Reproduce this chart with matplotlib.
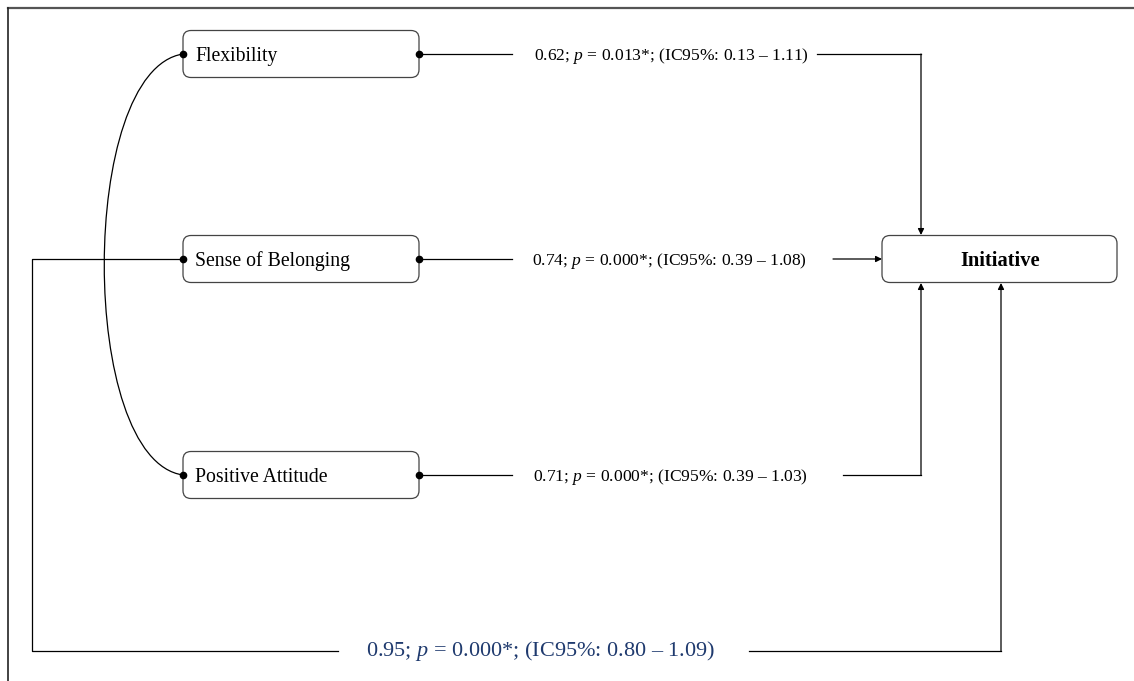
import matplotlib
matplotlib.use("Agg")
import matplotlib.pyplot as plt
from matplotlib.patches import FancyBboxPatch
from matplotlib.path import Path
from matplotlib.patches import PathPatch

plt.rcParams['font.family'] = ['Liberation Serif', 'DejaVu Serif']
plt.rcParams['mathtext.fontset'] = 'custom'
plt.rcParams['mathtext.rm'] = 'Liberation Serif'
plt.rcParams['mathtext.it'] = 'Liberation Serif:italic'

# path model values
predictors = ['Flexibility', 'Sense of Belonging', 'Positive Attitude']
outcome = 'Initiative'
coefs = [0.62, 0.74, 0.71]
p_values = ['0.013', '0.000', '0.000']
ci_low = [0.13, 0.39, 0.39]
ci_high = [1.11, 1.08, 1.03]
total_coef = 0.95
total_p = '0.000'
total_ci = (0.80, 1.09)


def label(c, p, lo, hi):
    return f"{c:.2f}; $p$ = {p}*; (IC95%: {lo:.2f} \u2013 {hi:.2f})"


fig = plt.figure(figsize=(11.34, 6.81), dpi=100)
ax = fig.add_axes([0, 0, 1, 1])
ax.set_xlim(0, 1134)
ax.set_ylim(681, 0)
ax.axis('off')

lw = 0.9
edge = '#444444'

# frame (top + left only)
ax.plot([8, 1134], [8, 8], color='#555555', lw=1.6)
ax.plot([8, 8], [8, 681], color='#222222', lw=1.2)

box_x0, box_x1 = 183, 419
box_h = 47
rows_y = [54, 259, 475]


def draw_box(x0, x1, yc, text, cx=None):
    b = FancyBboxPatch((x0, yc - box_h / 2), x1 - x0, box_h,
                       boxstyle="round,pad=0,rounding_size=8",
                       fc='white', ec=edge, lw=lw, zorder=3)
    ax.add_patch(b)
    if cx is None:
        ax.text(x0 + 12, yc + 2, text, ha='left', va='center', fontsize=14.2,
                zorder=4)
    else:
        ax.text(cx, yc + 2, text, ha='center', va='center', fontsize=14.8,
                fontweight='bold', zorder=4)


for name, y in zip(predictors, rows_y):
    draw_box(box_x0, box_x1, y, name)
    ax.plot([box_x0, box_x1], [y, y], 'o', color='k', ms=4.5, zorder=5)

# outcome box
draw_box(882, 1117, 259, outcome, cx=1000)

arrow = dict(arrowstyle='-|>', mutation_scale=9, lw=lw, color='k',
             shrinkA=0, shrinkB=0)

text_x = [671, 669, 670]
seg_after = [817, 833, 843]
for i, y in enumerate(rows_y):
    ax.plot([box_x1, 512], [y, y], color='k', lw=lw, zorder=2)
    ax.text(text_x[i], y + 2, label(coefs[i], p_values[i], ci_low[i], ci_high[i]),
            ha='center', va='center', fontsize=12.6)

# Flexibility -> Initiative (over the top)
ax.plot([seg_after[0], 921], [54, 54], color='k', lw=lw)
ax.annotate('', xy=(921, 235), xytext=(921, 54), arrowprops=arrow)
# Sense of Belonging -> Initiative
ax.annotate('', xy=(882, 259), xytext=(seg_after[1], 259), arrowprops=arrow)
# Positive Attitude -> Initiative
ax.plot([seg_after[2], 921], [475, 475], color='k', lw=lw)
ax.annotate('', xy=(921, 283), xytext=(921, 475), arrowprops=arrow)

# total effect path along the bottom
ax.plot([box_x0, 32, 32, 338], [259, 259, 651, 651], color='k', lw=lw, zorder=2)
ax.plot([749, 1001], [651, 651], color='k', lw=lw)
ax.annotate('', xy=(1001, 283), xytext=(1001, 651), arrowprops=arrow)
ax.text(541, 651, label(total_coef, total_p, *total_ci), ha='center',
        va='center', fontsize=16, color='#1f3a6e')

# covariance curve between Flexibility and Positive Attitude
verts = [(box_x0, rows_y[0]), (78, 70), (78, 460), (box_x0, rows_y[2])]
curve = Path(verts, [Path.MOVETO, Path.CURVE4, Path.CURVE4, Path.CURVE4])
ax.add_patch(PathPatch(curve, fc='none', ec='k', lw=lw, zorder=2))

fig.savefig('out.png', dpi=100)
